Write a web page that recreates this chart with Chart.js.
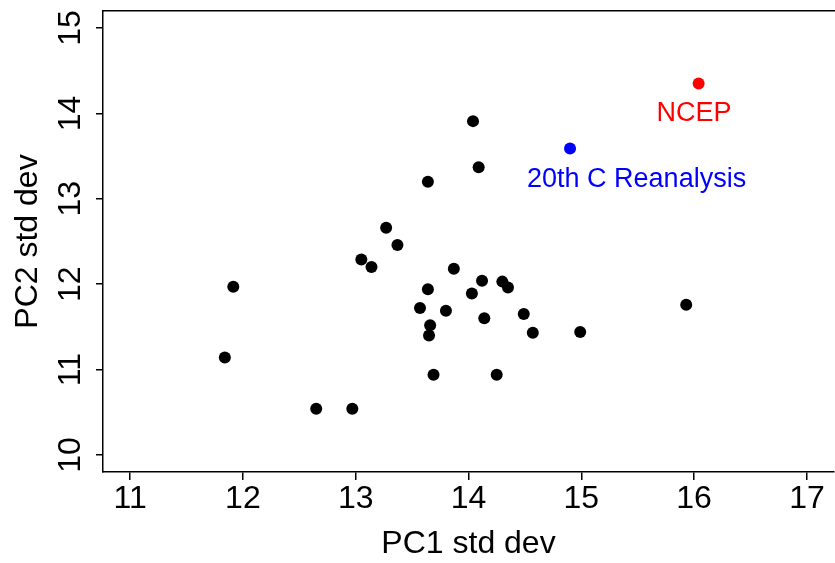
<!DOCTYPE html>
<html>
<head>
<meta charset="utf-8">
<title>PC1 vs PC2 std dev</title>
<script src="https://cdn.jsdelivr.net/npm/chart.js@4/dist/chart.umd.min.js"></script>
<style>
  html, body { margin: 0; padding: 0; background: #fff; overflow: hidden; }
  #frame { position: relative; width: 840px; height: 563px; }
</style>
</head>
<body>
<div id="frame"><canvas id="chart"></canvas></div>
<script>
// ensemble members (black dots)
const memberPc1 = [14.04, 14.09, 13.64, 13.27, 13.37, 13.05, 13.14, 13.87, 14.12, 14.30,
  14.35, 13.64, 14.03, 13.57, 13.80, 14.49, 14.14, 13.66, 13.65, 14.57,
  14.99, 13.69, 14.25, 11.915, 11.84, 12.65, 12.97, 15.93];
const memberPc2 = [13.91, 13.37, 13.20, 12.66, 12.46, 12.29, 12.20, 12.18, 12.04, 12.03,
  11.96, 11.94, 11.89, 11.72, 11.69, 11.65, 11.60, 11.52, 11.40, 11.43,
  11.44, 10.94, 10.94, 11.97, 11.14, 10.54, 10.54, 11.76];

// reanalyses
const reanalysisNames = ['NCEP', '20th C Reanalysis'];
const reanalysisPc1 = [16.04, 14.90];
const reanalysisPc2 = [14.35, 13.59];
const reanalysisColors = ['#ff0000', '#0000ff'];
// where the text labels sit (data units)
const labelPc1 = [16.0, 15.49];
const labelPc2 = [14.0, 13.22];

const xTicks = [11, 12, 13, 14, 15, 16, 17];
const yTicks = [10, 11, 12, 13, 14, 15];

function toPoints(xs, ys) {
  return xs.map((x, i) => ({ x, y: ys[i] }));
}

// R-style 4% padding around the axis limits
function paddedRange(ticks) {
  const lo = ticks[0];
  const hi = ticks[ticks.length - 1];
  const pad = (hi - lo) * 0.04;
  return { min: lo - pad, max: hi + pad };
}

const xRange = paddedRange(xTicks);
const yRange = paddedRange(yTicks);

Chart.defaults.font.family = "'Liberation Sans', Arial, Helvetica, sans-serif";
Chart.defaults.color = '#000';

const textLabels = {
  id: 'textLabels',
  afterDatasetsDraw(chart) {
    const { ctx, scales } = chart;
    ctx.save();
    ctx.font = "27px 'Liberation Sans', Arial, sans-serif";
    ctx.textAlign = 'center';
    ctx.textBaseline = 'middle';
    reanalysisNames.forEach((name, i) => {
      ctx.fillStyle = reanalysisColors[i];
      ctx.fillText(name, scales.x.getPixelForValue(labelPc1[i]), scales.y.getPixelForValue(labelPc2[i]));
    });
    ctx.restore();
  }
};

const datasets = [
  {
    label: 'members',
    data: toPoints(memberPc1, memberPc2),
    backgroundColor: '#000',
    borderWidth: 0,
    pointRadius: 6,
    pointHoverRadius: 6
  }
];
reanalysisNames.forEach((name, i) => {
  datasets.push({
    label: name,
    data: [{ x: reanalysisPc1[i], y: reanalysisPc2[i] }],
    backgroundColor: reanalysisColors[i],
    borderWidth: 0,
    pointRadius: 6,
    pointHoverRadius: 6
  });
});

new Chart(document.getElementById('chart'), {
  type: 'scatter',
  data: { datasets },
  options: {
    responsive: true,
    maintainAspectRatio: false,
    animation: false,
    events: [],
    layout: { padding: { top: 11, right: 3, left: 0, bottom: 0 } },
    plugins: {
      legend: { display: false },
      tooltip: { enabled: false }
    },
    scales: {
      x: {
        type: 'linear',
        position: 'bottom',
        min: xRange.min,
        max: xRange.max,
        afterBuildTicks(scale) {
          scale.ticks = xTicks.map((value) => ({ value }));
        },
        afterFit(scale) {
          scale.height = 91;
          scale.paddingLeft = 0;
          scale.paddingRight = 0;
        },
        ticks: { font: { size: 32 }, padding: 0, maxRotation: 0, autoSkip: false },
        grid: { display: true, drawOnChartArea: false, drawTicks: true, tickLength: 8, color: '#000', lineWidth: 1.5 },
        border: { display: true, color: '#000', width: 1.5 },
        title: { display: true, text: 'PC1 std dev', font: { size: 32 }, padding: { top: 0, bottom: 0 } }
      },
      y: {
        type: 'linear',
        position: 'left',
        min: yRange.min,
        max: yRange.max,
        afterBuildTicks(scale) {
          scale.ticks = yTicks.map((value) => ({ value }));
        },
        afterFit(scale) {
          scale.width = 103;
          scale.paddingTop = 0;
          scale.paddingBottom = 0;
        },
        ticks: { font: { size: 32 }, padding: 7, minRotation: 90, maxRotation: 90, crossAlign: 'center', autoSkip: false },
        grid: { display: true, drawOnChartArea: false, drawTicks: true, tickLength: 7, color: '#000', lineWidth: 1.5 },
        border: { display: true, color: '#000', width: 1.5 },
        title: { display: true, text: 'PC2 std dev', font: { size: 32 }, padding: { top: 9, bottom: 0 } }
      },
      xTop: {
        type: 'linear',
        position: 'top',
        min: xRange.min,
        max: xRange.max,
        ticks: { display: false },
        grid: { display: false, drawTicks: false },
        border: { display: true, color: '#000', width: 1.5 }
      }
    }
  },
  plugins: [textLabels]
});
</script>
</body>
</html>
